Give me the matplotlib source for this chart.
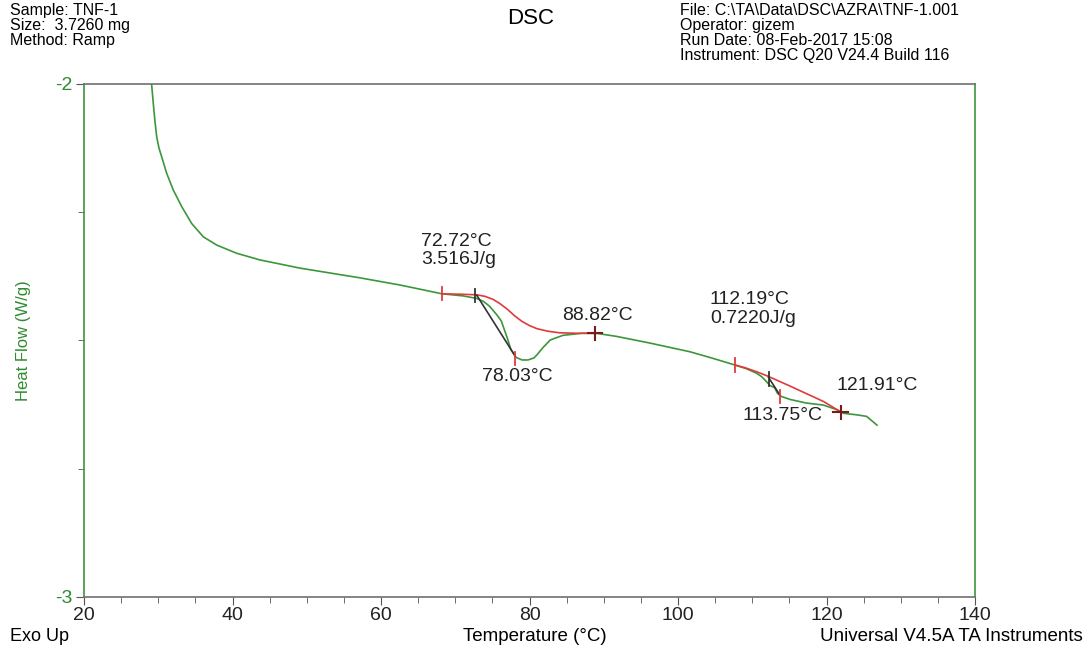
import matplotlib
matplotlib.use("Agg")
import matplotlib.pyplot as plt
from matplotlib.ticker import MultipleLocator

plt.rcParams["font.family"] = ["Liberation Sans", "DejaVu Sans"]

# DSC trace (temperature in °C, heat flow in W/g)
temp = [28.9, 29.1, 29.33, 29.55, 29.79, 30.1, 30.46, 31.13, 32.03, 33.16,
        34.50, 36.07, 37.87, 40.56, 43.7, 49.1, 57.2, 62.6, 68.2, 71.0, 72.9,
        73.8, 74.6, 75.6, 76.2, 77.0, 77.5, 78.2, 79.0, 79.8, 80.6, 81.0,
        81.8, 82.8, 84.5, 87.0, 89.0, 91.7, 96.2, 101.6, 104.5, 107.7, 109.2,
        110.6, 111.3, 111.9, 112.4, 113.0, 113.4, 113.9, 115.1, 117.3, 119.6,
        121.4, 122.3, 124.1, 125.4, 126.8]
heat_flow = [-1.95, -2.0, -2.038, -2.072, -2.103, -2.125, -2.142, -2.174,
             -2.207, -2.239, -2.272, -2.298, -2.314, -2.330, -2.343, -2.359,
             -2.378, -2.392, -2.409, -2.413, -2.418, -2.424, -2.433, -2.450,
             -2.462, -2.495, -2.518, -2.533, -2.538, -2.538, -2.534, -2.528,
             -2.514, -2.499, -2.490, -2.486, -2.486, -2.492, -2.505, -2.522,
             -2.534, -2.548, -2.555, -2.564, -2.571, -2.580, -2.588, -2.592,
             -2.603, -2.609, -2.615, -2.622, -2.626, -2.635, -2.642, -2.645,
             -2.648, -2.665]

# integration baselines (red)
base1_t = [68.2, 71.0, 72.9, 74.0, 75.1, 76.0, 77.0, 78.0, 79.0, 80.0, 81.0,
           82.5, 84.0, 86.5, 89.0]
base1_hf = [-2.409, -2.410, -2.411, -2.414, -2.420, -2.428, -2.439, -2.452,
            -2.463, -2.471, -2.477, -2.482, -2.485, -2.486, -2.486]
base2_t = [107.7, 109.0, 110.6, 112.0, 115.1, 119.6, 122.0]
base2_hf = [-2.548, -2.553, -2.561, -2.569, -2.589, -2.619, -2.640]

# onset tangents (black)
tan1_t = [72.9, 78.05]
tan1_hf = [-2.412, -2.530]
tan2_t = [112.19, 113.7]
tan2_hf = [-2.572, -2.606]

# tick marks on the curve
red_tick_t = [68.2, 78.03, 107.7, 113.75]
red_tick_hf = [-2.409, -2.535, -2.548, -2.609]
black_tick_t = [72.72, 112.19]
black_tick_hf = [-2.412, -2.575]
cross_t = [88.82, 121.91]
cross_hf = [-2.486, -2.640]

# annotations
labels = ["72.72°C\n3.516J/g", "88.82°C", "78.03°C",
          "112.19°C\n0.7220J/g", "121.91°C", "113.75°C"]
label_t = [65.4, 84.4, 73.6, 104.3, 121.3, 108.75]
label_hf = [-2.290, -2.452, -2.571, -2.404, -2.587, -2.647]
label_va = ["top", "center", "center", "top", "center", "center"]

GREEN = "#3c963c"
TEXT_GREEN = "#2e8b2e"
RED = "#e03a3a"
DARK = "#333333"
DARK_RED = "#7a1a1a"

fig = plt.figure(figsize=(10.91, 6.51), dpi=100)
ax = fig.add_axes([0.077, 0.083, 0.8167, 0.788])

ax.plot(temp, heat_flow, color=GREEN, lw=1.2, zorder=3)
ax.plot(base1_t, base1_hf, color=RED, lw=1.2, zorder=4)
ax.plot(base2_t, base2_hf, color=RED, lw=1.2, zorder=4)
ax.plot(tan1_t, tan1_hf, color=DARK, lw=1.2, zorder=5)
ax.plot(tan2_t, tan2_hf, color=DARK, lw=1.2, zorder=5)

h = 0.013
for t, v in zip(red_tick_t, red_tick_hf):
    ax.plot([t, t], [v - h, v + h], color=RED, lw=1.3, zorder=6)
for t, v in zip(black_tick_t, black_tick_hf):
    ax.plot([t, t], [v - h, v + h], color=DARK, lw=1.3, zorder=6)
for t, v in zip(cross_t, cross_hf):
    ax.plot([t, t], [v - h, v + h], color=DARK_RED, lw=1.5, zorder=6)
    ax.plot([t - 1.0, t + 1.0], [v, v], color=DARK_RED, lw=1.5, zorder=6)

for txt, t, v, va in zip(labels, label_t, label_hf, label_va):
    ax.text(t, v, txt, fontsize=14, color="#222222", va=va, ha="left",
            linespacing=1.1)

ax.set_xlim(20, 140)
ax.set_ylim(-3, -2)
ax.xaxis.set_major_locator(MultipleLocator(20))
ax.xaxis.set_minor_locator(MultipleLocator(5))
ax.yaxis.set_major_locator(MultipleLocator(1))
ax.yaxis.set_minor_locator(MultipleLocator(0.25))
ax.tick_params(axis="x", which="major", direction="out", length=6,
               labelsize=14, colors="#555555", labelcolor="#222222", pad=1)
ax.tick_params(axis="x", which="minor", direction="out", length=4,
               colors="#555555")
ax.tick_params(axis="y", which="major", direction="out", length=6,
               labelsize=14, colors="#555555", labelcolor=TEXT_GREEN, pad=2)
ax.tick_params(axis="y", which="minor", direction="out", length=4,
               colors="#555555")
ax.yaxis.set_major_formatter(plt.FuncFormatter(lambda v, p: "%d" % v))

for side in ("top", "bottom"):
    ax.spines[side].set_color("#707070")
    ax.spines[side].set_linewidth(1.2)
for side in ("left", "right"):
    ax.spines[side].set_color(GREEN)
    ax.spines[side].set_linewidth(1.2)

ax.set_ylabel("Heat Flow (W/g)", fontsize=12, color=TEXT_GREEN, labelpad=18)

fig.text(0.009, 0.996, "Sample: TNF-1\nSize:  3.7260 mg\nMethod: Ramp",
         fontsize=11.5, va="top", ha="left", linespacing=1.0)
fig.text(0.486, 0.972, "DSC", fontsize=16, va="center", ha="center")
fig.text(0.623, 0.996,
         "File: C:\\TA\\Data\\DSC\\AZRA\\TNF-1.001\nOperator: gizem\n"
         "Run Date: 08-Feb-2017 15:08\nInstrument: DSC Q20 V24.4 Build 116",
         fontsize=11.5, va="top", ha="left", linespacing=1.02)
fig.text(0.009, 0.023, "Exo Up", fontsize=13, va="center", ha="left")
fig.text(0.49, 0.023, "Temperature (°C)", fontsize=13.5, va="center",
         ha="center")
fig.text(0.992, 0.023, "Universal V4.5A TA Instruments", fontsize=13.5,
         va="center", ha="right")

fig.savefig("out.png", dpi=100)
